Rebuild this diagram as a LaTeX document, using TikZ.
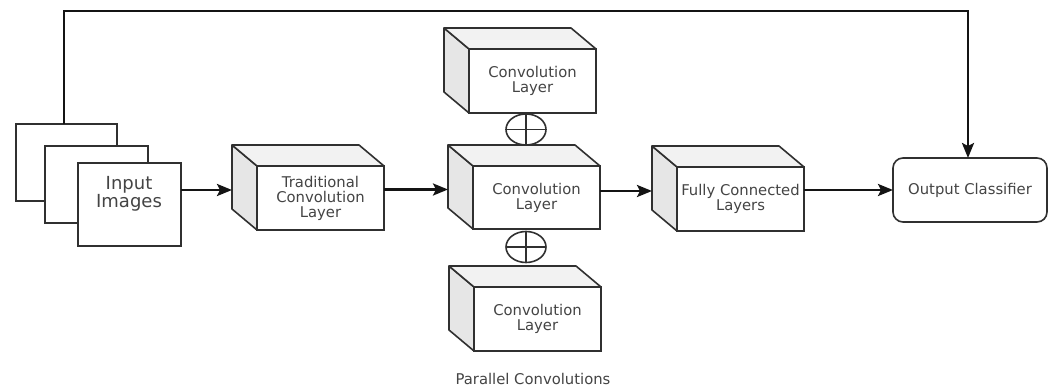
\documentclass[tikz,border=0pt]{standalone}
\usepackage{fontspec}
\setmainfont{DejaVu Sans}
\usetikzlibrary{arrows.meta,shapes.geometric,calc}
\definecolor{edge}{HTML}{303030}
\definecolor{sideface}{HTML}{E6E6E6}
\definecolor{topface}{HTML}{F2F2F2}
\definecolor{txt}{HTML}{444444}

\tikzset{
  face/.style={draw=edge, line width=1.6pt, fill=white, minimum width=127pt,
    minimum height=64pt, inner sep=0pt, outer sep=0pt, align=center, text=txt,
    font=\fontsize{14.8}{15}\selectfont},
  sheet/.style={draw=edge, line width=1.6pt, fill=white, inner sep=0pt, outer sep=0pt},
  rim/.style={draw=edge, line width=1.6pt, line join=round},
  link/.style={line width=2.5pt, draw=black!92, -{Stealth[length=15pt,width=12pt,inset=3pt]}},
  plusnode/.style={ellipse, draw=edge, line width=1.6pt, fill=white,
    minimum width=40pt, minimum height=31pt, inner sep=0pt, outer sep=0pt},
}

% side and top faces of a box whose front face is the node #1
\newcommand\cuboid[1]{%
  \filldraw[rim, fill=sideface] (#1.north west) -- ++(-25,-21)
    -- ($(#1.south west)+(-25,-21)$) -- (#1.south west) -- cycle;
  \filldraw[rim, fill=topface] (#1.north west) -- ++(-25,-21)
    -- ($(#1.north east)+(-25,-21)$) -- (#1.north east) -- cycle;
  \coordinate (#1-in) at ($(#1.west)+(-25,-8)$);
}

\begin{document}
\begin{tikzpicture}[x=1pt, y=-1pt]
  \fill[white] (0,0) rectangle (1052,387);
  \useasboundingbox (0,0) rectangle (1052,387);

  % stack of input images
  \node[sheet, minimum width=101pt, minimum height=77pt] (imgB) at (66.5,162.5) {};
  \node[sheet, minimum width=103pt, minimum height=77pt] (imgM) at (96.5,184.5) {};
  \node[sheet, minimum width=103pt, minimum height=83pt] (imgF) at (129.5,204.5) {};
  \node[align=center, text=txt, font=\fontsize{18}{18.5}\selectfont, inner sep=0pt]
    (imgtxt) at (129,194) {Input\\Images};

  % layers
  \node[face] (trad) at (320.5,198) {Traditional\\Convolution\\Layer};
  \cuboid{trad}
  \node[face] (convT) at (532.5,81) {Convolution\\Layer};
  \cuboid{convT}
  \node[face, minimum height=63pt] (convM) at (536.5,197.5) {Convolution\\Layer};
  \cuboid{convM}
  \node[face] (convB) at (537.5,319) {Convolution\\Layer};
  \cuboid{convB}
  \node[face] (fc) at (740.5,199) {Fully Connected\\Layers};
  \cuboid{fc}
  \node[face, rounded corners=10pt, minimum width=154pt] (out) at (970,190) {Output Classifier};

  % summation symbols between the parallel convolutions
  \node[plusnode] (plusT) at (526,129.5) {};
  \draw[rim] (plusT.north) -- (plusT.south) (plusT.west) -- (plusT.east);
  \node[plusnode] (plusB) at (526,247) {};
  \draw[rim] (plusB.north) -- (plusB.south) (plusB.west) -- (plusB.east);

  \node[text=txt, font=\fontsize{14.8}{15}\selectfont] (cap) at (533,379) {Parallel Convolutions};

  % connectors
  \coordinate (top) at (0,11);
  \draw[link] (imgF.east |- trad-in) -- (trad-in);
  \draw[link] (trad.east |- convM-in) -- (convM-in);
  \draw[link] (convM.east |- fc-in) -- (fc-in);
  \draw[link] (out.west -| fc.east) -- (out.west);
  \draw[link, line join=miter] ([xshift=-2.5pt]imgB.north) -- ([xshift=-2.5pt]imgB.north |- top)
    -| ([xshift=-2pt]out.north);
\end{tikzpicture}
\end{document}
